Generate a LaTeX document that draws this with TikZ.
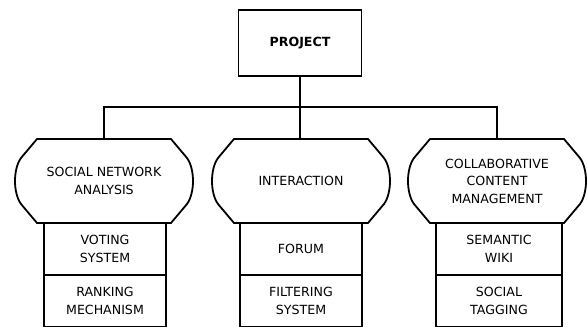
\documentclass[tikz,border=0pt]{standalone}
\usepackage{fontspec}
\setsansfont{DejaVu Sans}
\usepackage{tikz}
\usetikzlibrary{positioning,calc}
\tikzstyle{line}=[line width=1.8pt]
\tikzstyle{toplevel}=[draw, line width=1.8pt, minimum width=123pt, minimum height=66pt, outer sep=0pt, font=\sffamily\bfseries\fontsize{12.6}{17.5}\selectfont]
\tikzstyle{area}=[minimum width=180pt, minimum height=84pt, outer sep=0pt, align=center, font=\sffamily\fontsize{12.6}{17.5}\selectfont]
\tikzstyle{item}=[draw, line width=1.8pt, minimum width=122pt, minimum height=52pt, inner sep=0pt, outer sep=0pt, align=center, font=\sffamily\fontsize{12.6}{17.5}\selectfont]
% outline of a top-level area: flat top and bottom, cut corners, bulging sides
\newcommand{\areaoutline}[1]{%
  \draw[line, line join=round] ($(#1.north west)+(23pt,0)$) -- ($(#1.north east)+(-23pt,0)$)
    -- ($(#1.north east)+(-7pt,-19pt)$)
    .. controls ($(#1.east)+(1pt,12pt)$) and ($(#1.east)+(1pt,-12pt)$) .. ($(#1.south east)+(-7pt,19pt)$)
    -- ($(#1.south east)+(-23pt,0)$) -- ($(#1.south west)+(23pt,0)$)
    -- ($(#1.south west)+(7pt,19pt)$)
    .. controls ($(#1.west)+(-1pt,-12pt)$) and ($(#1.west)+(-1pt,12pt)$) .. ($(#1.north west)+(7pt,-19pt)$)
    -- cycle;}

\begin{document}
\begin{tikzpicture}[x=1pt,y=-1pt]
  \clip (0,0) rectangle (587,327);
  \useasboundingbox (0,0) rectangle (587,327);

  \node[toplevel] (proj) at (300,43) {PROJECT};
  \coordinate (bus) at (300,107);

  \node[area] (sna) at (104,181) {SOCIAL NETWORK\\ANALYSIS};
  \node[area] (inter) at (301,181) {INTERACTION};
  \node[area] (ccm) at (497,181) {COLLABORATIVE\\CONTENT\\MANAGEMENT};
  \areaoutline{sna}
  \areaoutline{inter}
  \areaoutline{ccm}

  \node[item, below=0pt of sna, xshift=1pt] (vote) {VOTING\\SYSTEM};
  \node[item, below=0pt of vote] (rank) {RANKING\\MECHANISM};
  \node[item, below=0pt of inter] (forum) {FORUM};
  \node[item, below=0pt of forum] (filter) {FILTERING\\SYSTEM};
  \node[item, below=0pt of ccm, xshift=2pt, minimum width=126pt] (wiki) {SEMANTIC\\WIKI};
  \node[item, below=0pt of wiki, minimum width=126pt] (tag) {SOCIAL\\TAGGING};

  \draw[line] (proj.south) -- (bus);
  \draw[line] (sna.north) |- (bus) -| (ccm.north);
  \draw[line] (bus) -- (bus |- inter.north);
\end{tikzpicture}
\end{document}
